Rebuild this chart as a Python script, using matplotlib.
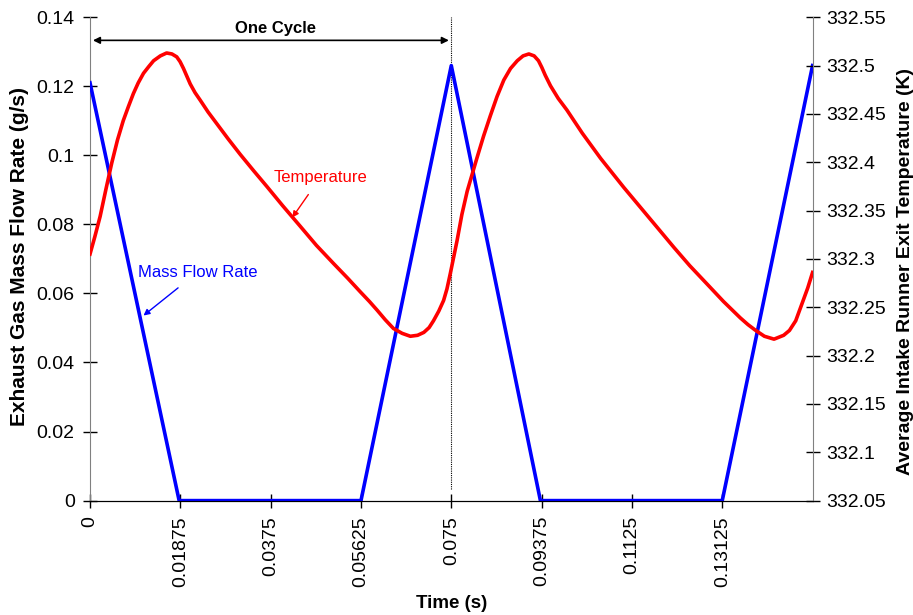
import numpy as np
import matplotlib
matplotlib.use("Agg")
import matplotlib.pyplot as plt

plt.rcParams['font.family'] = ['Liberation Sans', 'DejaVu Sans']

# mass flow rate (g/s)
flow_t = [0.0, 0.0185, 0.05625, 0.075, 0.0935, 0.13125, 0.15]
flow_v = [0.121, 0.0, 0.0, 0.126, 0.0, 0.0, 0.126]

# average intake runner exit temperature (K)
temp_t = [0.0, 0.0010, 0.0021, 0.0033, 0.0045, 0.0057, 0.0069, 0.0080, 0.0090,
          0.0100, 0.0111, 0.0122, 0.0132, 0.0146, 0.0159, 0.0170, 0.0180, 0.0187,
          0.0194, 0.0201, 0.0208, 0.0218, 0.0229, 0.0245, 0.0263, 0.0287, 0.0312,
          0.0340, 0.0367, 0.0400, 0.0436, 0.0470, 0.0506, 0.0535, 0.0561, 0.0580,
          0.0596, 0.0613, 0.0630, 0.0648, 0.0665, 0.0680, 0.0693, 0.0704, 0.0713,
          0.0724, 0.0734, 0.0741, 0.0748, 0.0755, 0.0762, 0.0772, 0.0783, 0.0803,
          0.0817, 0.0831, 0.0845, 0.0859, 0.0873, 0.0887, 0.0899, 0.0911, 0.0922,
          0.0931, 0.0938, 0.0945, 0.0956, 0.0972, 0.0990, 0.1022, 0.1060, 0.1108,
          0.1160, 0.1212, 0.1245, 0.1281, 0.1315, 0.1350, 0.1366, 0.1382, 0.1400,
          0.1420, 0.1440, 0.1452, 0.1465, 0.1479, 0.1490, 0.1500]
temp_v = [332.305, 332.323, 332.344, 332.372, 332.399, 332.423, 332.443, 332.458,
          332.471, 332.482, 332.492, 332.499, 332.505, 332.510, 332.513, 332.512,
          332.509, 332.504, 332.497, 332.489, 332.481, 332.472, 332.464, 332.452,
          332.440, 332.424, 332.408, 332.391, 332.375, 332.355, 332.334, 332.314,
          332.295, 332.280, 332.266, 332.256, 332.247, 332.237, 332.228, 332.223,
          332.220, 332.221, 332.224, 332.229, 332.236, 332.246, 332.257, 332.269,
          332.285, 332.302, 332.319, 332.346, 332.370, 332.404, 332.427, 332.448,
          332.468, 332.485, 332.497, 332.505, 332.510, 332.512, 332.510, 332.505,
          332.498, 332.490, 332.479, 332.466, 332.454, 332.430, 332.404, 332.374,
          332.343, 332.312, 332.293, 332.274, 332.256, 332.239, 332.232, 332.226,
          332.220, 332.217, 332.221, 332.226, 332.236, 332.255, 332.270, 332.286]

xticks = [0, 0.01875, 0.0375, 0.05625, 0.075, 0.09375, 0.1125, 0.13125]
xtick_labels = ["0", "0.01875", "0.0375", "0.05625", "0.075", "0.09375", "0.1125", "0.13125"]
flow_ticks = [0, 0.02, 0.04, 0.06, 0.08, 0.1, 0.12, 0.14]
flow_tick_labels = ["0", "0.02", "0.04", "0.06", "0.08", "0.1", "0.12", "0.14"]
temp_ticks = [332.05, 332.1, 332.15, 332.2, 332.25, 332.3, 332.35, 332.4, 332.45, 332.5, 332.55]
temp_tick_labels = ["332.05", "332.1", "332.15", "332.2", "332.25", "332.3", "332.35",
                    "332.4", "332.45", "332.5", "332.55"]

fig = plt.figure(figsize=(9.13, 6.15), dpi=100)
ax = fig.add_axes([0.0986, 0.186, 0.7914, 0.786])
ax2 = ax.twinx()

ax.plot(flow_t, flow_v, color="#0000ff", lw=2.6, zorder=3)
ax2.plot(temp_t, temp_v, color="#ff0000", lw=2.6, zorder=3)

ax.set_xlim(0, 0.15)
ax.set_ylim(0, 0.14)
ax2.set_ylim(332.05, 332.55)

ax.set_xticks(xticks)
ax.set_xticklabels(xtick_labels, rotation=90, fontsize=14)
ax.set_yticks(flow_ticks)
ax.set_yticklabels(flow_tick_labels, fontsize=14)
ax2.set_yticks(temp_ticks)
ax2.set_yticklabels(temp_tick_labels, fontsize=14)

for a in (ax, ax2):
    a.spines["top"].set_visible(False)
    a.tick_params(direction="inout", length=10, width=1, color="black")
ax.spines["left"].set_color("#808080")
ax2.spines["right"].set_color("#808080")
ax2.spines["left"].set_visible(False)
ax.spines["right"].set_visible(False)
ax.spines["bottom"].set_color("black")
ax.tick_params(axis="x", pad=6)
ax.tick_params(axis="y", pad=6)
ax2.tick_params(axis="y", pad=5)

ax.set_xlabel("Time (s)", fontsize=13.5, fontweight="bold", va="center")
ax.xaxis.set_label_coords(0.5, -0.213)
ax.set_ylabel("Exhaust Gas Mass Flow Rate (g/s)", fontsize=15, fontweight="bold", va="center")
ax.yaxis.set_label_coords(-0.097, 0.504)
ax2.set_ylabel("Average Intake Runner Exit Temperature (K)", fontsize=14, fontweight="bold",
               va="center")
ax2.yaxis.set_label_coords(1.128, 0.473)

# one cycle marker
ax.axvline(0.075, ymin=0.025, ymax=1.0, color="black", lw=0.8, ls=(0, (1, 1)), zorder=2)
ax.annotate("", xy=(0.0006, 0.1333), xytext=(0.0745, 0.1333),
            arrowprops=dict(arrowstyle="<|-|>", color="black", lw=1.2,
                            mutation_scale=10, shrinkA=0, shrinkB=0))
ax.text(0.0386, 0.1368, "One Cycle", fontsize=12, fontweight="bold",
        ha="center", va="center")

ax.annotate("Temperature", xy=(0.0420, 0.0820), xytext=(0.0478, 0.0936),
            fontsize=12, color="#ff0000", ha="center", va="center",
            arrowprops=dict(arrowstyle="-|>", color="#ff0000", lw=1,
                            mutation_scale=9, shrinkA=6, shrinkB=0))
ax.annotate("Mass Flow Rate", xy=(0.0111, 0.0536), xytext=(0.0223, 0.0661),
            fontsize=12, color="#0000ff", ha="center", va="center",
            arrowprops=dict(arrowstyle="-|>", color="#0000ff", lw=1,
                            mutation_scale=9, shrinkA=6, shrinkB=0))

fig.savefig("out.png", dpi=100)
